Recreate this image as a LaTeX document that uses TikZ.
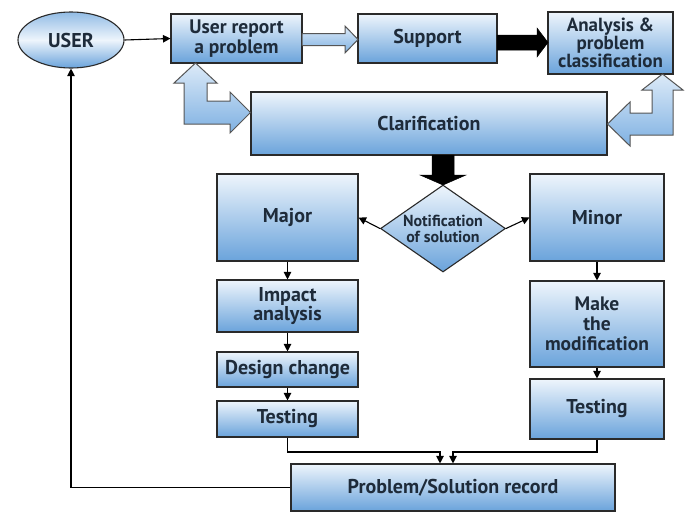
\documentclass[tikz,border=0pt]{standalone}
\usepackage{fontspec}
\setmainfont{PT Sans}
\usetikzlibrary{shapes.geometric,arrows.meta,calc}
\definecolor{btop}{HTML}{EEF5FC}
\definecolor{bbot}{HTML}{6AA3DB}
\definecolor{atop}{HTML}{DCEAF8}
\definecolor{abot}{HTML}{7FB1E2}
\definecolor{txt}{HTML}{1E2B3A}
\definecolor{edge}{HTML}{2A2A2A}
\begin{document}
\begin{tikzpicture}[x=1pt,y=-1pt,
  box/.style={draw=edge,line width=1.1pt,top color=btop,bottom color=bbot,
    inner sep=0pt,align=center,text=txt,
    font=\fontsize{20}{18}\selectfont\bfseries},
  ell/.style={ellipse,draw=edge,line width=1.1pt,top color=bbot!70!btop,
    bottom color=bbot,middle color=btop,inner sep=0pt,text=txt,
    font=\fontsize{20}{17}\selectfont\bfseries},
  dia/.style={diamond,draw=edge,line width=1.1pt,top color=btop,bottom color=bbot,
    inner sep=0pt,aspect=1.44,align=center,text=txt,
    font=\fontsize{16}{16}\selectfont\bfseries},
  harrow/.style={draw=edge!80,line width=1pt,top color=atop,bottom color=abot,line join=miter},
  barrow/.style={fill=black,draw=black,line width=0.5pt},
  arr/.style={draw=black,line width=1.1pt,-{Triangle[length=7.5pt,width=7.5pt]}}
]
\useasboundingbox[fill=white] (0,0) rectangle (686,512);

% nodes
\node[ell,minimum width=106pt,minimum height=56pt] (user) at (71,40) {USER};
\node[box,minimum width=131pt,minimum height=49pt,font=\fontsize{19.5}{20}\selectfont\bfseries] (ur) at (236.5,38.5) {User report\\a problem};
\node[box,minimum width=139pt,minimum height=49pt] (sup) at (427.5,38.5) {Support};
\node[box,minimum width=125pt,minimum height=62pt,font=\fontsize{19}{17}\selectfont\bfseries] (ana) at (610.5,43) {Analysis \&\\problem\\classification};
\node[box,minimum width=356pt,minimum height=63pt] (cla) at (429,123.5) {Clarification};
\node[dia,minimum width=125pt,minimum height=87pt] (nos) at (443,228.5) {Notification\\of solution};
\node[box,minimum width=141pt,minimum height=87pt] (maj) at (287.5,217.5) {Major};
\node[box,minimum width=134pt,minimum height=87pt] (min) at (597,217.5) {Minor};
\node[box,minimum width=141pt,minimum height=52pt,font=\fontsize{20}{19.5}\selectfont\bfseries] (imp) at (287.5,306) {Impact\\analysis};
\node[box,minimum width=141pt,minimum height=35pt] (des) at (287.5,369.5) {Design change};
\node[box,minimum width=141pt,minimum height=36pt] (tl) at (287.5,419) {Testing};
\node[box,minimum width=134pt,minimum height=86pt,font=\fontsize{19.5}{20}\selectfont\bfseries] (mak) at (597,324) {Make\\the\\modification};
\node[box,minimum width=134pt,minimum height=60pt] (tr) at (597,409) {Testing};
\node[box,minimum width=324pt,minimum height=47pt] (ps) at (453,487.5) {Problem/Solution record};

% block arrows
\path[harrow] (302,33.5) -- (345,33.5) -- (345,26) -- (358,39.5) -- (345,53) -- (345,45.5) -- (302,45.5) -- cycle;
\path[barrow] (497,35) -- (537,35) -- (537,28) -- (548,42.5) -- (537,57) -- (537,50) -- (497,50) -- cycle;
\path[barrow] (432,155) -- (454,155) -- (454,175) -- (466,175) -- (443,185) -- (420,175) -- (432,175) -- cycle;
% left bent double arrow
\path[harrow] (195.5,63) -- (217,83) -- (207,83) -- (207,101) -- (230,101) -- (230,92) -- (250.5,112.5)
  -- (230,133) -- (230,124) -- (184,124) -- (184,83) -- (174,83) -- cycle;
% right bent double arrow
\path[harrow] (662.5,74) -- (683,90) -- (673,90) -- (673,135) -- (630,135) -- (630,146) -- (607.5,124)
  -- (630,102) -- (630,113) -- (652,113) -- (652,90) -- (642,90) -- cycle;

% connectors
\draw[arr] (user.east) -- (ur.west);
\draw[arr] (nos.west) -- (maj.east);
\draw[arr] (nos.east) -- (min.west);
\draw[arr] (maj.south) -- (imp.north);
\draw[arr] (imp.south) -- (des.north);
\draw[arr] (des.south) -- (tl.north);
\draw[arr] (min.south) -- (mak.north);
\draw[arr] (mak.south) -- (tr.north);
\coordinate (j1) at (440,452);
\coordinate (j2) at (453,452);
\draw[arr] (tl.south) |- (j1) -- (j1 |- ps.north);
\draw[arr] (tr.south) |- (j2) -- (j2 |- ps.north);
\draw[arr] (ps.west) -| (user.south);
\end{tikzpicture}
\end{document}
